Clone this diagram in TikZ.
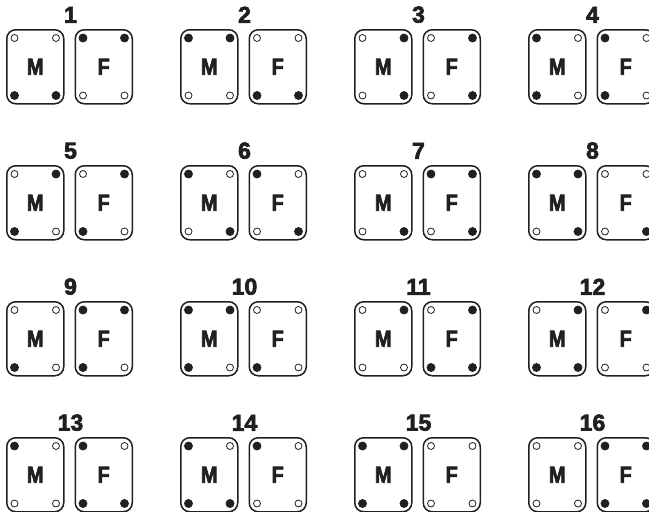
\documentclass[tikz,border=0pt]{standalone}
\usepackage{fontspec}
\setmainfont{Liberation Sans}
\newfontfamily\platefont{Liberation Sans}[FakeBold=3]
\newfontfamily\plateletter{Liberation Sans}[FakeBold=3,FakeStretch=0.86]
\usetikzlibrary{positioning}
\definecolor{ink}{RGB}{35,31,32}
\tikzset{
  plate/.style={draw=ink,line width=1.5pt,rounded corners=9pt,inner sep=0pt,
    minimum width=57pt,minimum height=74pt,text=ink,
    font=\plateletter\bfseries\fontsize{23}{23}\selectfont},
  stud/.style={circle,draw=ink,line width=0.8pt,inner sep=0pt,fill=white,minimum size=7pt},
  stud0/.style={stud},
  stud1/.style={stud,fill=ink,minimum size=8pt},
  num/.style={inner sep=0pt,text=ink,font=\platefont\bfseries\fontsize{23}{23}\selectfont},
}
\begin{document}
\begin{tikzpicture}[x=1pt,y=-1pt]
  \useasboundingbox (0,0) rectangle (649,512);
  \clip (0,0) rectangle (649,512);
  % corner order: top left, top right, bottom left, bottom right (1 = filled)
  \foreach \ma/\mb/\mc/\md/\fa/\fb/\fc/\fd [count=\n] in {
      0/0/1/1/1/1/0/0, 1/1/0/0/0/0/1/1, 0/1/0/1/0/1/0/1, 1/0/1/0/1/0/1/0,
      0/1/1/0/0/1/1/0, 1/0/0/1/1/0/0/1, 0/0/0/1/1/1/0/1, 1/1/0/1/0/0/0/1,
      0/0/1/0/1/1/1/0, 1/1/1/0/0/0/1/0, 0/1/0/0/0/1/1/1, 0/1/1/1/0/1/0/0,
      1/0/0/0/1/0/1/1, 1/0/1/1/1/0/0/0, 1/1/1/1/0/0/0/0, 0/0/0/0/1/1/1/1}{
    \pgfmathsetmacro\cx{6+174*mod(\n-1,4)}
    \pgfmathsetmacro\cy{29+136*floor((\n-1)/4)}
    \node[plate,anchor=north west] (m\n) at (\cx,\cy) {M};
    \node[plate,right=10pt of m\n] (f\n) {F};
    \path (m\n.north east) -- (f\n.north west) node[num,midway,above=6pt,xshift=1pt] (n\n) {\n};
    \foreach \c/\a/\dx/\dy [count=\k] in {\ma/north west/8.5pt/-9pt,\mb/north east/-8.5pt/-9pt,
        \mc/south west/8.5pt/9pt,\md/south east/-8.5pt/9pt}
      \node[stud\c] (m\n-\k) at ([shift={(\dx,\dy)}]m\n.\a) {};
    \foreach \c/\a/\dx/\dy [count=\k] in {\fa/north west/8.5pt/-9pt,\fb/north east/-8.5pt/-9pt,
        \fc/south west/8.5pt/9pt,\fd/south east/-8.5pt/9pt}
      \node[stud\c] (f\n-\k) at ([shift={(\dx,\dy)}]f\n.\a) {};
  }
\end{tikzpicture}
\end{document}
